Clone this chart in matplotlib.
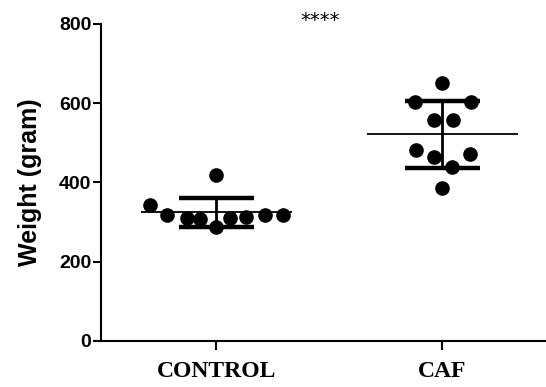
import numpy as np
import matplotlib
matplotlib.use("Agg")
import matplotlib.pyplot as plt

categories = ["CONTROL", "CAF"]
control = [419, 343, 318, 310, 308, 287, 310, 312, 318, 318]
caf = [650, 603, 603, 557, 557, 482, 465, 471, 440, 385]
yticks = [0, 200, 400, 600, 800]
ylabel = "Weight (gram)"
signif = "****"

# horizontal placement of dots (layout only)
control_off = [0, -0.295, -0.22, -0.128, -0.07, 0, 0.062, 0.133, 0.217, 0.296]
caf_off = [0, -0.12, 0.13, -0.035, 0.047, -0.115, -0.035, 0.124, 0.043, 0]

fig = plt.figure(figsize=(5.46, 3.87), dpi=100)
ax = fig.add_axes([0.185, 0.119, 0.815, 0.819])

groups = [control, caf]
offsets = [control_off, caf_off]
for i, (vals, offs) in enumerate(zip(groups, offsets)):
    vals = np.array(vals, dtype=float)
    xs = i + np.array(offs)
    ax.plot(xs, vals, 'o', color='black', markersize=9.5, zorder=3)
    m = vals.mean()
    sd = vals.std(ddof=1)
    ax.hlines(m, i - 0.334, i + 0.334, color='black', lw=1.3, zorder=4)
    ax.errorbar(i, m, yerr=sd, fmt='none', ecolor='black', elinewidth=2.0,
                capsize=27, capthick=3.2, zorder=4)

ax.set_xlim(-0.51, 1.46)
ax.set_ylim(0, 800)
ax.set_xticks(range(len(categories)))
ax.set_xticklabels(categories, fontfamily='Liberation Serif', fontweight='bold', fontsize=17)
ax.set_yticks(yticks)
ax.set_yticklabels([str(t) for t in yticks], fontfamily='Liberation Sans', fontweight='bold', fontsize=14)
ax.tick_params(axis='y', length=6, width=1.5, pad=1, color='black')
ax.tick_params(axis='x', length=6.5, width=1.5, pad=8, color='black')
ax.set_ylabel(ylabel, fontfamily='Liberation Sans', fontweight='bold', fontsize=18, labelpad=12)

for s in ['top', 'right']:
    ax.spines[s].set_visible(False)
for s in ['left', 'bottom']:
    ax.spines[s].set_linewidth(1.5)

ax.text(0.46, 808, signif, ha='center', va='center', fontsize=14, fontfamily='DejaVu Sans', clip_on=False)

fig.savefig("out.png", dpi=100)
